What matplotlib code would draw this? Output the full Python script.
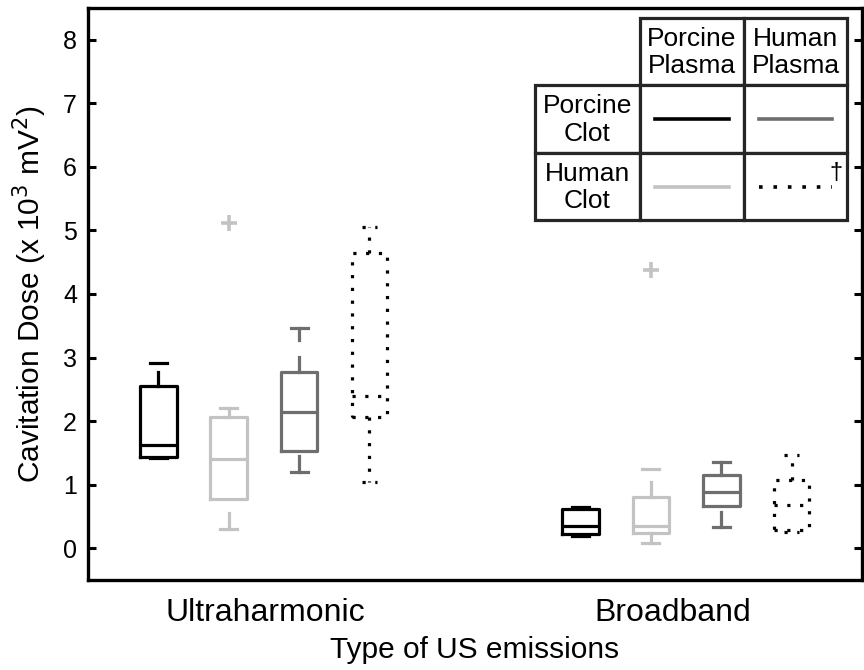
import numpy as np
import matplotlib
matplotlib.use('Agg')
import matplotlib.pyplot as plt
from matplotlib.patches import Rectangle

plt.rcParams['font.family'] = ['Liberation Sans', 'DejaVu Sans']

# box order inside each group: PC/PP, HC/PP, PC/HP, HC/HP
positions = [1, 2, 3, 4, 7, 8, 9, 10]
q1 = [1.44, 0.78, 1.53, 2.07, 0.23, 0.24, 0.67, 0.28]
med = [1.63, 1.41, 2.14, 2.39, 0.35, 0.35, 0.89, 0.68]
q3 = [2.55, 2.06, 2.77, 4.64, 0.61, 0.81, 1.15, 1.07]
# whisker stems attached to the box
whi_hi = [2.78, 2.06, 3.01, 4.64, 0.61, 1.04, 1.15, 1.15]
whi_lo = [1.44, 0.78, 1.53, 2.07, 0.23, 0.24, 0.67, 0.28]
# caps and their short stems
cap_hi = [2.92, 2.21, 3.46, 5.05, 0.65, 1.25, 1.36, 1.46]
stem_hi = [2.92, 2.06, 3.28, 4.64, 0.65, 1.25, 1.15, 1.30]
cap_lo = [1.42, 0.31, 1.20, 1.04, 0.19, 0.09, 0.33, 0.25]
stem_lo = [1.42, 0.56, 1.45, 2.07, 0.19, 0.24, 0.57, 0.25]
out_x = [2, 8]
out_y = [5.11, 4.38]

group_labels = ['Ultraharmonic', 'Broadband']
group_pos = [2.52, 8.31]
col_names = ['Porcine\nPlasma', 'Human\nPlasma']
row_names = ['Porcine\nClot', 'Human\nClot']

black = '#000000'
light = '#c3c3c3'
dark = '#6e6e6e'
colors = [black, light, dark, black] * 2
styles = ['-', '-', '-', (0, (1, 3))] * 2
lw = 2.3

fig = plt.figure(figsize=(8.64, 6.7), dpi=100)
ax = fig.add_axes([88/864., 1-580/670., 774/864., 572/670.])

for i in range(len(positions)):
    x = positions[i]
    c = colors[i]
    ls = styles[i]
    bw = 0.26 if i % 4 != 3 else 0.25
    cw = 0.12 if i % 4 != 3 else 0.11
    st = dict(med=med[i], q1=q1[i], q3=q3[i], whislo=q1[i], whishi=q3[i], fliers=[])
    ax.bxp([st], positions=[x], widths=2*bw, showcaps=False,
           boxprops=dict(color=c, lw=lw, ls=ls, solid_joinstyle='round'),
           medianprops=dict(color=c, lw=lw, ls=ls),
           whiskerprops=dict(color=c, lw=0))
    ax.plot([x, x], [q3[i], whi_hi[i]], color=c, lw=lw, ls=ls)
    ax.plot([x, x], [q1[i], whi_lo[i]], color=c, lw=lw, ls=ls)
    ax.plot([x, x], [stem_hi[i], cap_hi[i]], color=c, lw=lw, ls=ls)
    ax.plot([x, x], [stem_lo[i], cap_lo[i]], color=c, lw=lw, ls=ls)
    ax.plot([x-cw, x+cw], [cap_hi[i], cap_hi[i]], color=c, lw=lw, ls=ls)
    ax.plot([x-cw, x+cw], [cap_lo[i], cap_lo[i]], color=c, lw=lw, ls=ls)

ax.plot(out_x, out_y, '+', color=light, ms=11, mew=2.6, ls='none')

ax.set_xlim(0, 11)
ax.set_ylim(-0.5, 8.5)
ax.set_yticks(np.arange(0, 9, 1))
ax.set_xticks(group_pos)
ax.set_xticklabels(group_labels, fontsize=23)
ax.tick_params(axis='x', length=0, pad=13)
ax.tick_params(axis='y', direction='in', length=6, width=2.2, labelsize=18,
               right=True, pad=8)
for s in ax.spines.values():
    s.set_linewidth(2.4)
ax.set_xlabel('Type of US emissions', fontsize=21.5, labelpad=6)
ax.set_ylabel('Cavitation Dose (x 10$^3$ mV$^2$)', fontsize=21.5, labelpad=10)

# table-style legend, drawn in pixel space
tax = fig.add_axes([0, 0, 1, 1], zorder=5)
tax.set_xlim(0, 864)
tax.set_ylim(670, 0)
tax.axis('off')
bc = '#262626'
xs = [535, 640, 744, 847]
ys = [18, 85, 153, 220]
for j in range(2):
    tax.add_patch(Rectangle((xs[j+1], ys[0]), xs[j+2]-xs[j+1], ys[1]-ys[0],
                            fc='white', ec=bc, lw=2.3))
    tax.text((xs[j+1]+xs[j+2])/2., (ys[0]+ys[1])/2.+1, col_names[j],
             ha='center', va='center', fontsize=19, linespacing=1.18)
for r in range(2):
    tax.add_patch(Rectangle((xs[0], ys[r+1]), xs[1]-xs[0], ys[r+2]-ys[r+1],
                            fc='white', ec=bc, lw=2.3))
    tax.text((xs[0]+xs[1])/2., (ys[r+1]+ys[r+2])/2.+1, row_names[r],
             ha='center', va='center', fontsize=19, linespacing=1.18)
    for j in range(2):
        tax.add_patch(Rectangle((xs[j+1], ys[r+1]), xs[j+2]-xs[j+1], ys[r+2]-ys[r+1],
                                fc='white', ec=bc, lw=2.3))
        k = r + 2*j
        yc = (ys[r+1]+ys[r+2])/2.
        tax.plot([xs[j+1]+15, xs[j+2]-15], [yc, yc], color=colors[k],
                 ls=styles[k], lw=2.6)
tax.text(836, 173, u'\u2020', ha='center', va='center', fontsize=17)

fig.savefig('out.png', dpi=100)
